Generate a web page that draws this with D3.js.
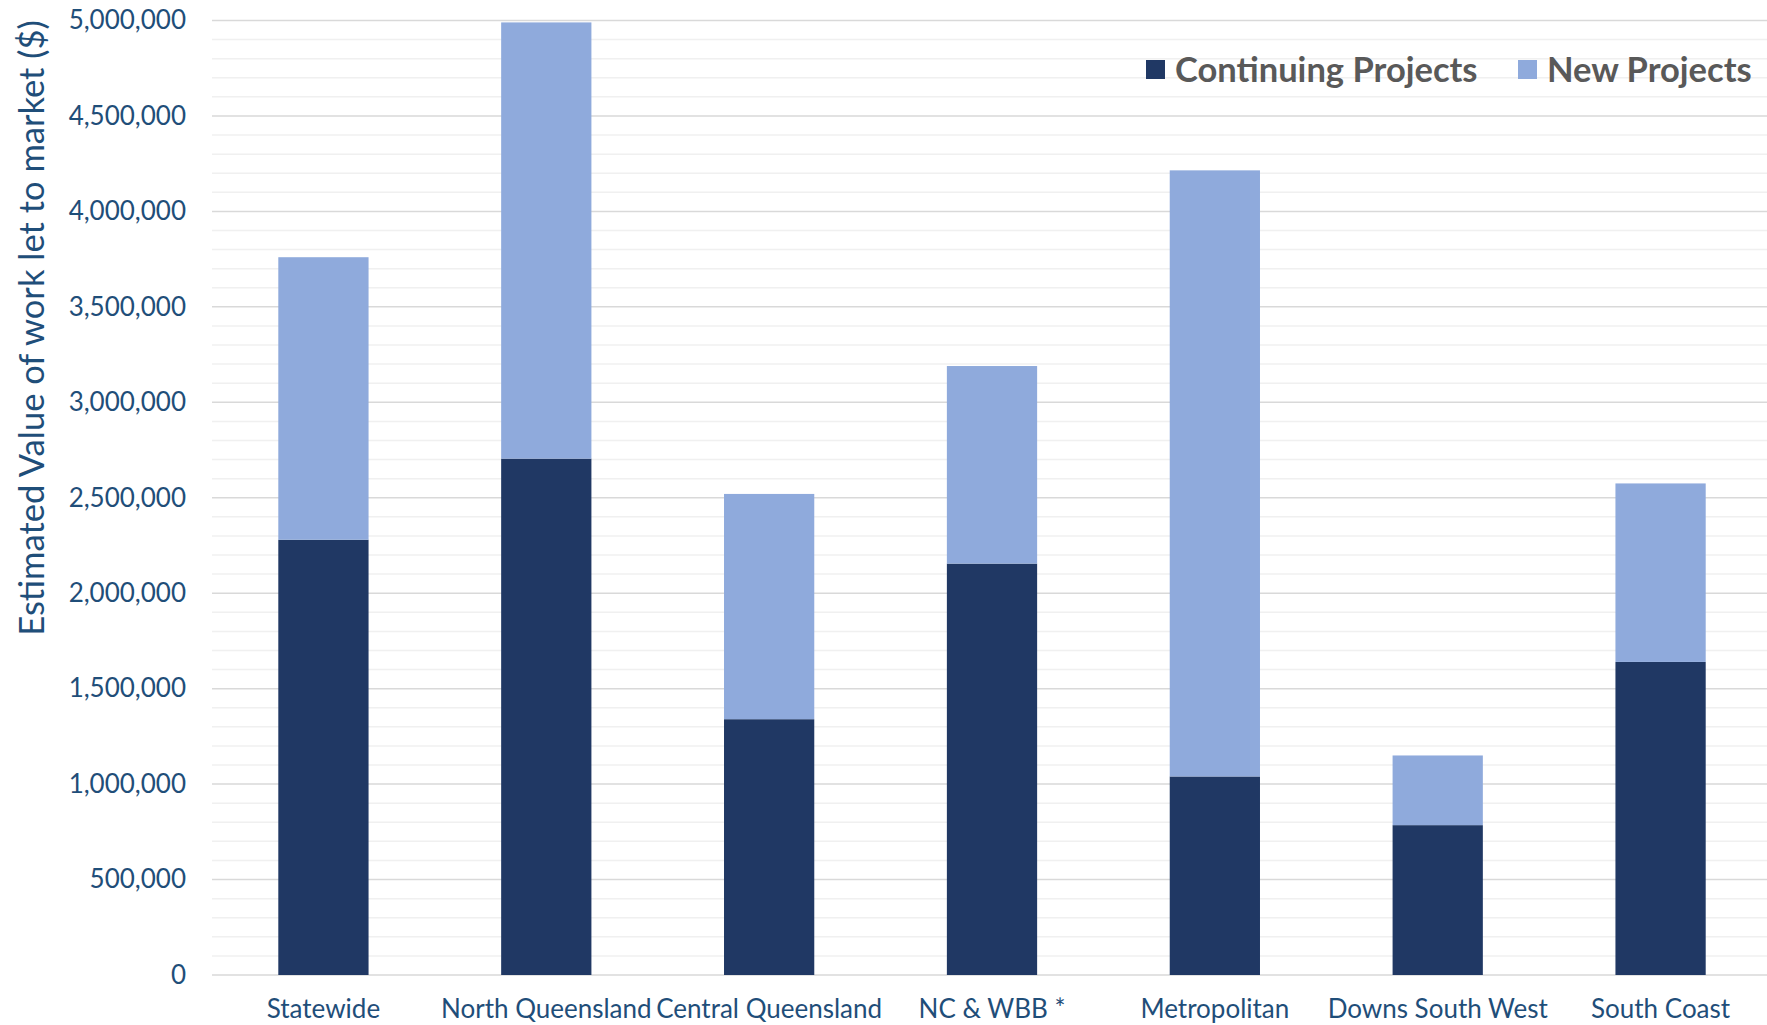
<!DOCTYPE html>
<html>
<head>
<meta charset="utf-8">
<script src="https://cdn.jsdelivr.net/npm/d3@7"></script>
<style>
  body { margin: 0; background: #fff; overflow: hidden; }
  text { font-family: Lato, "Open Sans", sans-serif; }
</style>
</head>
<body>
<div class="chart"></div>
<script>
// values
var regions = ["Statewide", "North Queensland", "Central Queensland", "NC & WBB *",
               "Metropolitan", "Downs South West", "South Coast"];
var continuing = [2280000, 2705000, 1340000, 2155000, 1040000, 785000, 1640000];
var newProjects = [1480000, 2285000, 1180000, 1035000, 3175000, 365000, 935000];
var seriesNames = ["Continuing Projects", "New Projects"];
var yTicks = [0, 500000, 1000000, 1500000, 2000000, 2500000, 3000000, 3500000, 4000000, 4500000, 5000000];

var colors = ["#203864", "#8faadc"];

var W = 1767, H = 1025;
var margin = {top: 20.5, left: 212},
    width = 1560,          // plot runs a little past the right edge of the picture
    height = 975 - margin.top;

var svg = d3.select(".chart").append("svg")
    .attr("width", W)
    .attr("height", H)
  .append("g")
    .attr("transform", "translate(" + margin.left + "," + margin.top + ")");

var x = d3.scaleBand().domain(regions).range([0, width]).paddingInner(0.595).paddingOuter(0.2975);
var y = d3.scaleLinear().domain([0, 5000000]).range([height, 0]);

// minor gridlines every 100,000
svg.append("g")
    .selectAll("line")
    .data(d3.range(0, 5000001, 100000).filter(function(v) { return v % 500000 !== 0; }))
  .enter().append("line")
    .attr("x1", 0).attr("x2", width)
    .attr("y1", function(d) { return y(d); })
    .attr("y2", function(d) { return y(d); })
    .attr("stroke", "#f0f0f0")
    .attr("stroke-width", 1.5);

// major gridlines
svg.append("g")
    .selectAll("line")
    .data(yTicks)
  .enter().append("line")
    .attr("x1", 0).attr("x2", width)
    .attr("y1", function(d) { return y(d); })
    .attr("y2", function(d) { return y(d); })
    .attr("stroke", "#d9d9d9")
    .attr("stroke-width", 1.5);

// stack the two series
var table = regions.map(function(r, i) {
  return {region: r, "Continuing Projects": continuing[i], "New Projects": newProjects[i]};
});
var stacked = d3.stack().keys(seriesNames)(table);

svg.selectAll(".series")
    .data(stacked)
  .enter().append("g")
    .attr("fill", function(d, i) { return colors[i]; })
  .selectAll("rect")
    .data(function(d) { return d; })
  .enter().append("rect")
    .attr("x", function(d) { return x(d.data.region); })
    .attr("width", x.bandwidth())
    .attr("y", function(d) { return y(d[1]); })
    .attr("height", function(d) { return y(d[0]) - y(d[1]); });

// Y axis labels
var yAxis = svg.append("g")
    .call(d3.axisLeft(y).tickValues(yTicks).tickFormat(d3.format(",")).tickSize(0).tickPadding(26));
yAxis.select(".domain").remove();
yAxis.selectAll("text")
    .attr("fill", "#1f4e79")
    .style("font-size", "26px");

// X axis labels
var xAxis = svg.append("g")
    .attr("transform", "translate(0," + height + ")")
    .call(d3.axisBottom(x).tickSize(0).tickPadding(25));
xAxis.select(".domain").remove();
xAxis.selectAll("text")
    .attr("fill", "#1f4e79")
    .style("font-size", "26px");

// axis title
svg.append("text")
    .attr("transform", "translate(" + (30 - margin.left) + "," + (328 - margin.top) + ") rotate(-90)")
    .attr("text-anchor", "middle")
    .attr("dominant-baseline", "central")
    .attr("fill", "#1f4e79")
    .style("font-size", "34.5px")
    .text("Estimated Value of work let to market ($)");

// legend
var legendX = [1146, 1518];
var legend = svg.selectAll(".legend")
    .data(seriesNames)
  .enter().append("g")
    .attr("transform", function(d, i) {
      return "translate(" + (legendX[i] - margin.left) + "," + (60 - margin.top) + ")";
    });
legend.append("rect")
    .attr("width", 19).attr("height", 19)
    .attr("fill", function(d, i) { return colors[i]; });
legend.append("text")
    .attr("x", 29).attr("y", 22)
    .attr("fill", "#595959")
    .style("font-size", "34.5px")
    .style("font-weight", "bold")
    .text(function(d) { return d; });
</script>
</body>
</html>
